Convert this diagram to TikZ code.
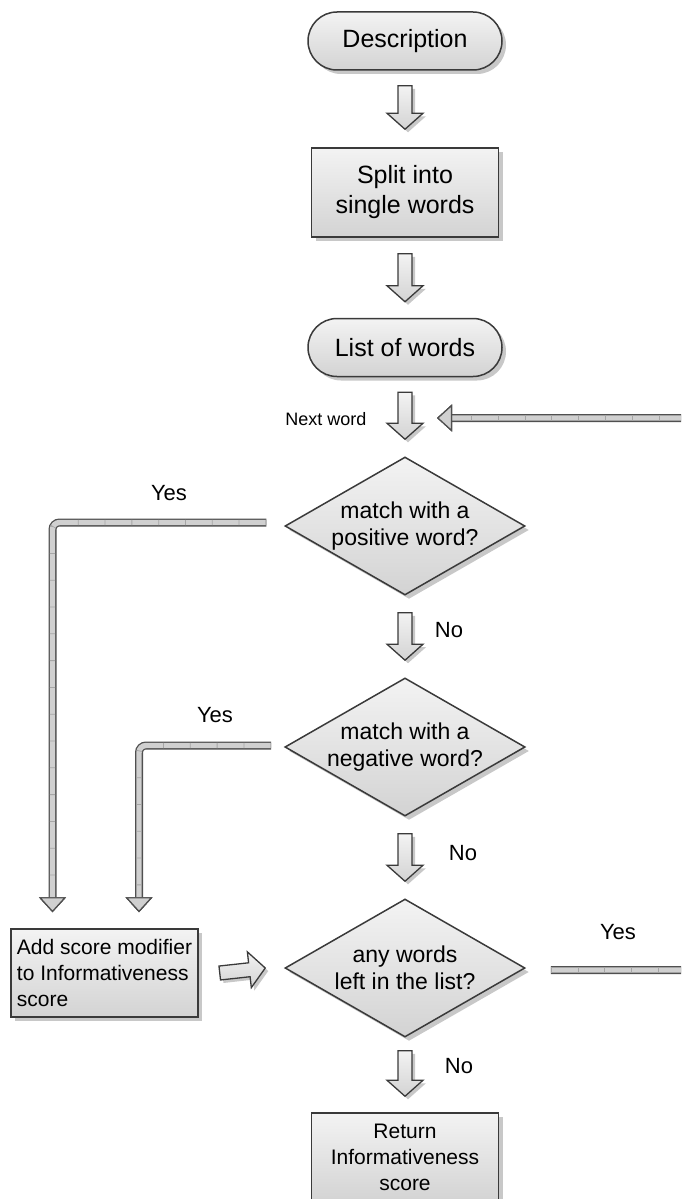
\documentclass[tikz,border=0pt]{standalone}
\usepackage{fontspec}
\setmainfont{Liberation Sans}
\usetikzlibrary{shapes.geometric,calc,arrows.meta}

\definecolor{edge}{HTML}{3A3A3A}
\definecolor{topfill}{HTML}{F3F3F3}
\definecolor{botfill}{HTML}{D3D3D3}
\definecolor{shade}{HTML}{C8C8C8}
\definecolor{pipeedge}{HTML}{505050}
\definecolor{pipefill}{HTML}{D0D0D0}
\definecolor{pipetick}{HTML}{A6A6A6}

\newcommand\mainsize{\fontsize{25pt}{30pt}\selectfont}
\newcommand\testsize{\fontsize{23pt}{27pt}\selectfont}
\newcommand\addsize{\fontsize{21pt}{26pt}\selectfont}
\newcommand\labsize{\fontsize{22pt}{26pt}\selectfont}
\newcommand\notesize{\fontsize{18pt}{22pt}\selectfont}

\tikzset{
  box/.style={draw=edge, line width=1.5pt, top color=topfill, bottom color=botfill,
    preaction={fill=shade, transform canvas={shift={(4pt,-4pt)}}}, align=center},
  pill/.style={box, rounded corners=29pt, minimum width=194pt, minimum height=58pt, font=\mainsize},
  task/.style={box, minimum width=187pt, minimum height=89pt, font=\mainsize},
  test/.style={box, diamond, aspect=1.74, inner sep=0pt, minimum width=240pt, minimum height=138pt, font=\testsize},
  lab/.style={font=\labsize},
  blockarrow/.style={draw=edge, line width=1.3pt, top color=topfill, bottom color=botfill,
    preaction={fill=shade, transform canvas={shift={(3pt,-3pt)}}},
    to path={let \p1=(\tikztostart), \p2=(\tikztotarget), \p3=($(\p2)!16pt!(\p1)$) in
      ($(\p1)!7pt!90:(\p2)$) -- ($(\p3)!7pt!90:(\p2)$) -- ($(\p3)!18pt!90:(\p2)$) -- (\p2)
      -- ($(\p3)!18pt!-90:(\p2)$) -- ($(\p3)!7pt!-90:(\p2)$) -- ($(\p1)!7pt!-90:(\p2)$) -- cycle}},
  pipe/.style={draw=pipeedge, line width=8pt, rounded corners=7pt,
    -{Triangle[length=15pt, width=27pt, line width=1.2pt, fill=pipefill, color=pipeedge]},
    postaction={draw=pipefill, line width=5.4pt},
    postaction={draw=pipetick, line width=5.4pt, dash pattern=on 0.8pt off 26pt}},
}

\begin{document}
\begin{tikzpicture}[x=1pt,y=-1pt]
\useasboundingbox (0,0) rectangle (681,1199);
\clip (0,0) rectangle (681,1199);

% steps
\node[pill] (desc) at (405,41) {Description};
\node[task] (split) at (405,192.5) {Split into\\single words};
\node[pill] (list) at (405,347.5) {List of words};
\node[test] (pos) at (405,526) {match with a\\positive word?};
\node[test] (neg) at (405,747) {match with a\\negative word?};
\node[test] (left) at (405,968) {any words\\left in the list?};
\node[task, font=\addsize, align=left, minimum height=88pt] (add) at (104.5,973) {Add score modifier\\to Informativeness\\score};
\node[task, font=\addsize] (ret) at (405,1157.5) {Return\\Informativeness\\score};

% block arrows
\draw[blockarrow] ([yshift=-15pt]desc.south) to ([yshift=18pt]split.north);
\draw[blockarrow] ([yshift=-16pt]split.south) to ([yshift=16pt]list.north);
\draw[blockarrow] ([yshift=-15pt]list.south) to ([yshift=17pt]pos.north);
\draw[blockarrow] ([yshift=-17pt]pos.south) to ([yshift=17pt]neg.north);
\draw[blockarrow] ([yshift=-17pt]neg.south) to ([yshift=17pt]left.north);
\draw[blockarrow] ([yshift=-13pt]left.south) to ([yshift=16pt]ret.north);
\draw[blockarrow] ([xshift=21pt]add.east) to ([xshift=-19pt]left.west);

% yes pipes
\coordinate (back) at (437,418);
\draw[pipe] ([xshift=-18pt,yshift=3.5pt]pos.west) -| ([xshift=-52pt,yshift=16pt]add.north);
\draw[pipe] ([xshift=-13pt,yshift=1.5pt]neg.west) -| ([xshift=34.5pt,yshift=16pt]add.north);
\draw[pipe] ([xshift=25pt,yshift=-2pt]left.east) -- ++(170,0) |- (back);

% labels
\node[font=\notesize] (next) at (326,419) {Next word};
\node[lab] (yes1) at (169,493) {Yes};
\node[lab] (yes2) at (215,715) {Yes};
\node[lab] (yes3) at (618,932) {Yes};
\node[lab] (no1) at (449,630) {No};
\node[lab] (no2) at (463,853) {No};
\node[lab] (no3) at (459,1066) {No};
\end{tikzpicture}
\end{document}
